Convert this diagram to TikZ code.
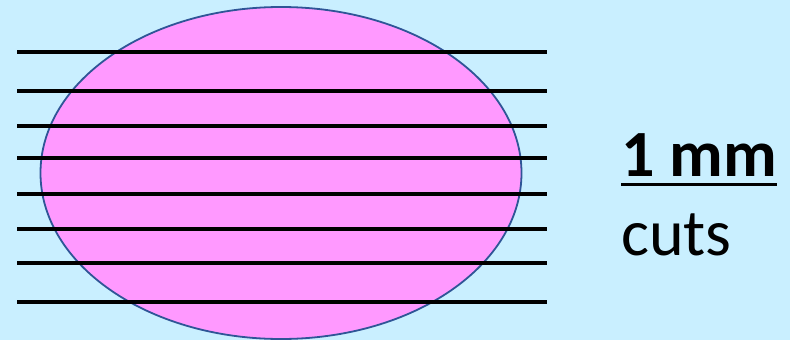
\documentclass[tikz,border=0pt]{standalone}
\usepackage{fontspec}
\setmainfont{Carlito}
\usepackage{tikz}
\definecolor{skyback}{HTML}{C9EFFF}
\definecolor{tissuepink}{HTML}{FF99FF}
\definecolor{tissueedge}{HTML}{2F5597}
\tikzset{
	tissue/.style={fill=tissuepink, draw=tissueedge, line width=1.8pt},
	cutline/.style={black, line width=4.5pt},
	label/.style={anchor=base west, inner sep=0pt, font=\fontsize{66}{79}\selectfont}
}

\begin{document}
\begin{tikzpicture}[x=1pt, y=-1pt]
\useasboundingbox [fill=skyback] (0,0) rectangle (790,340);
\coordinate (0) at (281,173);
\draw [tissue] (0) ellipse (240.5 and 166);
% parallel cuts
\draw [cutline] (17,52) -- (547,52);
\draw [cutline] (17,91) -- (547,91);
\draw [cutline] (17,126) -- (547,126);
\draw [cutline] (17,158) -- (547,158);
\draw [cutline] (17,194) -- (547,194);
\draw [cutline] (17,229) -- (547,229);
\draw [cutline] (17,263) -- (547,263);
\draw [cutline] (17,302) -- (547,302);

\node [label, font=\fontsize{66}{79}\selectfont\bfseries] (mm) at (621,176) {1 mm};
\draw [line width=3pt] ([yshift=-8.3pt]mm.base west) -- ([yshift=-8.3pt]mm.base east);
\node [label] (cuts) at (621,255) {cuts};
\end{tikzpicture}
\end{document}
